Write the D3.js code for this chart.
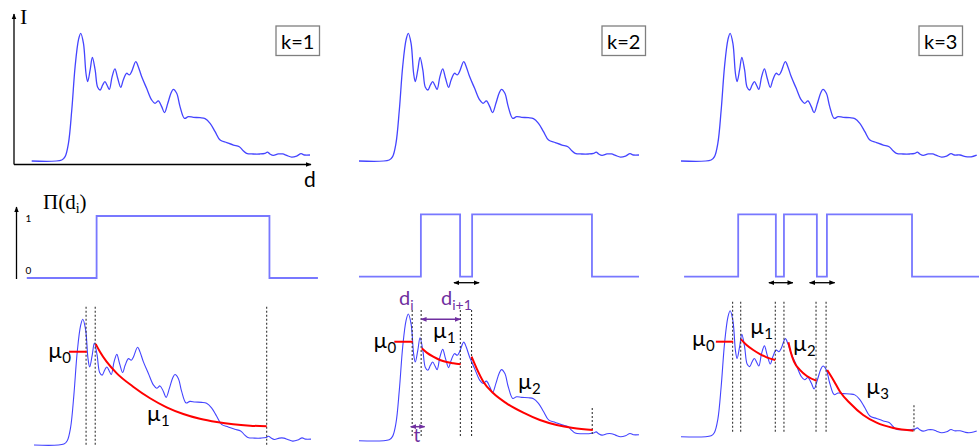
<!DOCTYPE html>
<html lang="en">
<head>
<meta charset="UTF-8">
<script src="https://d3js.org/d3.v7.min.js"></script>
<style>
  body, html { margin: 0; padding: 0; background: #fff; overflow: hidden; }
  svg { display: block; font-family: Lato, "Open Sans", sans-serif; }
</style>
</head>
<body>
<div id="chart"></div>
<script>
// intensity profile I(d), identical in the three panels (points beyond d=100 only visible for k=3)
const profileD = [0, 10.8, 12.0, 13.2, 14.4, 15.6, 16.8, 17.6, 18.6, 19.5,
  20.1, 21.0, 21.8, 22.8, 23.7, 24.6, 25.5, 26.3, 27.2, 27.9,
  28.9, 29.9, 30.9, 32.0, 32.9, 34.1, 35.1, 35.9, 37.4, 38.3,
  39.5, 41.3, 43.1, 44.3, 45.5, 46.7, 47.7, 48.9, 50.1, 50.9,
  52.1, 53.3, 54.9, 56.3, 58.1, 60.5, 62.3, 64.1, 65.9, 67.7,
  70.1, 72.5, 74.6, 76.0, 77.2, 79.6, 82.0, 83.8, 84.7, 85.6,
  86.8, 88.6, 90.2, 91.6, 93.4, 95.2, 96.8, 98.0, 100, 102, 104, 106];
const profileI = [0, 0.8, 3.4, 13.8, 39.9, 73.9, 94.8, 100, 92.2, 68.7,
  62.1, 71.3, 81.2, 71.3, 57.7, 55.6, 59.5, 62.1, 58.7, 56.1,
  66.1, 72.1, 64.8, 57.7, 63.4, 68.7, 67.4, 70.0, 77.8, 73.9,
  66.1, 56.9, 47.8, 45.2, 47.0, 42.6, 37.9, 45.2, 53.5, 56.1,
  53.0, 42.6, 33.4, 34.7, 34.2, 33.9, 33.2, 29.5, 23.0, 16.4,
  14.4, 12.5, 11.2, 8.1, 6.0, 5.5, 5.5, 6.0, 7.0, 5.5,
  4.4, 5.5, 5.5, 4.4, 3.1, 3.9, 5.7, 4.7, 4.7, 3.4, 3.3, 4.6];

const kLabels = ["k=1", "k=2", "k=3"];

// Π(d_i) window function: edges along d and level held after each edge
const stepEdges = [
  [-2.6, 22.6, 85.0, 102.5],
  [0, 22.1, 36.1, 40.4, 83.2, 100],
  [1.1, 20.5, 34.0, 36.9, 48.7, 52.3, 82.8, 107]
];
const stepLevels = [
  [0, 1, 0, 0],
  [0, 1, 0, 1, 0, 0],
  [0, 1, 0, 1, 0, 1, 0, 0]
];
// widened gaps marked with double arrows
const gapArrows = [[], [[33.9, 42.9]], [[31.5, 40.1], [46.1, 55.1]]];

// segment boundaries (dotted lines)
const boundaries = [
  [18.8, 22.1, 84.0],
  [19.0, 22.2, 36.2, 40.2, 83.3],
  [18.5, 21.4, 33.8, 36.9, 48.4, 52.0, 83.5]
];

// mu0 level: [d start, d end, I]
const mu0 = [[12.6, 19.0, 74.2], [12.6, 19.2, 78.1], [12.5, 18.7, 75.4]];

// fitted decays per segment, [d, I]
const fits = [
  [[[22.3, 80.3], [23.8, 74.2], [26.2, 66.3], [29.9, 57.0], [35.8, 46.4], [41.9, 37.2], [47.9, 30.0],
    [53.9, 24.7], [59.9, 20.9], [66.0, 18.3], [71.9, 16.5], [78.0, 15.4], [84.0, 14.9]]],
  [[[22.4, 72.9], [24.2, 69.5], [26.5, 66.3], [28.9, 63.7], [31.3, 62.1], [33.7, 61.1], [36.3, 60.3]],
   [[40.2, 66.3], [42.0, 57.1], [44.4, 46.6], [48.0, 37.4], [52.7, 29.5], [58.7, 22.1], [64.6, 16.3],
    [70.6, 12.4], [76.5, 10.0], [83.5, 8.4]]],
  [[[21.5, 77.3], [23.5, 72.8], [25.9, 68.8], [28.3, 65.6], [30.7, 63.0], [33.8, 60.9]],
   [[38.5, 74.9], [39.3, 67.5], [40.5, 59.5], [42.7, 52.9], [45.1, 48.2], [48.6, 44.4]],
   [[52.4, 52.9], [54.6, 45.0], [57.0, 35.7], [60.6, 26.5], [65.3, 17.2], [70.1, 11.1], [76.1, 6.9], [83.3, 4.8]]]
];
const muNames = [["0", "1"], ["0", "1", "2"], ["0", "1", "2", "3"]];

// ---- layout ----
const W = 979, H = 446;
const cols = [
  {top: [31.7, 310], bot: [34, 311], botY: [445, 319.3], stepY: [278, 216], box: 276, dot: [306.7, 446], maxD: 100},
  {top: [359, 639], bot: [359, 639], botY: [440.7, 314], stepY: [276.7, 214.3], box: 602, dot: [310, 436], maxD: 100},
  {top: [681, 960], bot: [681, 960], botY: [436.7, 310.7], stepY: [276.7, 214.3], box: 919, dot: [301.7, 433.3], maxD: 106}
];
const topY = [161, 33.3];
const muPos = [
  [[48, 357.5], [146.7, 421]],
  [[373.3, 347.5], [432.7, 337.5], [517.7, 389]],
  [[691.7, 346], [750, 334], [792.7, 351], [866, 394]]
];

const sigColor = "#4444ff", stepColor = "#7878ff", fitColor = "#ff0000", purple = "#7030a0";

const svg = d3.select("#chart").append("svg").attr("width", W).attr("height", H);
const defs = svg.append("defs");
function marker(id, color) {
  defs.append("marker").attr("id", id)
    .attr("viewBox", "0 0 10 10").attr("refX", 9).attr("refY", 5)
    .attr("markerWidth", 6).attr("markerHeight", 6)
    .attr("markerUnits", "userSpaceOnUse")
    .attr("orient", "auto-start-reverse")
    .append("path").attr("d", "M0,1 L10,5 L0,9 z").attr("fill", color);
}
marker("arrK", "#000");
marker("arrP", purple);

const profile = profileD.map((d, i) => [d, profileI[i]]);
const smooth = d3.curveCatmullRom.alpha(0.5);

cols.forEach((c, ci) => {
  const pts = profile.filter(p => p[0] <= c.maxD);

  // top row
  const xt = d3.scaleLinear().domain([0, 100]).range(c.top);
  const yt = d3.scaleLinear().domain([0, 100]).range(topY);
  svg.append("path").datum(pts)
    .attr("d", d3.line().x(p => xt(p[0])).y(p => yt(p[1])).curve(smooth))
    .attr("fill", "none").attr("stroke", sigColor).attr("stroke-width", 1.3);

  svg.append("rect").attr("x", c.box).attr("y", 26).attr("width", 43.5).attr("height", 29.5)
    .attr("fill", "none").attr("stroke", "#7f7f7f").attr("stroke-width", 1.3);
  svg.append("text").attr("x", c.box + 21.75).attr("y", 48.5).attr("text-anchor", "middle")
    .attr("font-size", 20).text(kLabels[ci]);

  // middle row: window function
  const xb = d3.scaleLinear().domain([0, 100]).range(c.bot);
  const ys = d3.scaleLinear().domain([0, 1]).range(c.stepY);
  svg.append("path").datum(stepEdges[ci].map((e, i) => [e, stepLevels[ci][i]]))
    .attr("d", d3.line().x(p => xb(p[0])).y(p => ys(p[1])).curve(d3.curveStepAfter))
    .attr("fill", "none").attr("stroke", stepColor).attr("stroke-width", 1.8);
  gapArrows[ci].forEach(g => {
    svg.append("line").attr("x1", xb(g[0])).attr("x2", xb(g[1])).attr("y1", 282.7).attr("y2", 282.7)
      .attr("stroke", "#000").attr("stroke-width", 1.3)
      .attr("marker-start", "url(#arrK)").attr("marker-end", "url(#arrK)");
  });

  // bottom row
  const yb = d3.scaleLinear().domain([0, 100]).range(c.botY);
  svg.append("path").datum(pts)
    .attr("d", d3.line().x(p => xb(p[0])).y(p => yb(p[1])).curve(smooth))
    .attr("fill", "none").attr("stroke", sigColor).attr("stroke-width", 1.1);

  const bnd = boundaries[ci];
  bnd.forEach((b, i) => {
    const last = i === bnd.length - 1 && ci > 0;
    svg.append("line").attr("x1", xb(b)).attr("x2", xb(b))
      .attr("y1", last ? c.dot[1] - 28 : c.dot[0]).attr("y2", c.dot[1])
      .attr("stroke", "#333").attr("stroke-width", 1.1).attr("stroke-dasharray", "2,2");
  });

  const m = mu0[ci];
  svg.append("line").attr("x1", xb(m[0])).attr("x2", xb(m[1])).attr("y1", yb(m[2])).attr("y2", yb(m[2]))
    .attr("stroke", fitColor).attr("stroke-width", 2);
  fits[ci].forEach(seg => {
    svg.append("path").datum(seg)
      .attr("d", d3.line().x(p => xb(p[0])).y(p => yb(p[1])).curve(d3.curveMonotoneX))
      .attr("fill", "none").attr("stroke", fitColor).attr("stroke-width", 2);
  });

  muNames[ci].forEach((n, i) => {
    const t = svg.append("text").attr("x", muPos[ci][i][0]).attr("y", muPos[ci][i][1])
      .attr("font-size", 22).attr("fill", "#000");
    t.append("tspan").text("\u00b5");
    t.append("tspan").attr("font-size", 15).attr("dy", 5).text(n);
  });

  if (ci === 1) {
    [[399, "i"], [441, "i+1"]].forEach(([x, s]) => {
      const t = svg.append("text").attr("x", x).attr("y", 305).attr("font-size", 20).attr("fill", purple);
      t.append("tspan").text("d");
      t.append("tspan").attr("font-size", 14).attr("dy", 5).text(s);
    });
    svg.append("line").attr("x1", xb(bnd[1])).attr("x2", xb(bnd[2])).attr("y1", 319.3).attr("y2", 319.3)
      .attr("stroke", purple).attr("stroke-width", 1.5)
      .attr("marker-start", "url(#arrP)").attr("marker-end", "url(#arrP)");
    svg.append("line").attr("x1", xb(bnd[0]) - 1.5).attr("x2", xb(bnd[1]) + 3.5).attr("y1", 426.7).attr("y2", 426.7)
      .attr("stroke", purple).attr("stroke-width", 1.5)
      .attr("marker-start", "url(#arrP)").attr("marker-end", "url(#arrP)");
    svg.append("text").attr("x", 413.5).attr("y", 442).attr("font-size", 19).attr("fill", purple).text("t");
  }
});

// axes of the first column
svg.append("path").attr("d", "M14,164.5 L14,14").attr("stroke", "#000").attr("stroke-width", 1.3)
  .attr("marker-end", "url(#arrK)");
svg.append("path").attr("d", "M14,164.5 L311,164.5").attr("stroke", "#000").attr("stroke-width", 1.3)
  .attr("marker-end", "url(#arrK)");
svg.append("text").attr("x", 20).attr("y", 23.5).attr("font-family", "'Liberation Serif', serif")
  .attr("font-size", 22).text("I");
svg.append("text").attr("x", 304).attr("y", 186.5).attr("font-size", 21).text("d");

svg.append("path").attr("d", "M16.5,279 L16.5,207").attr("stroke", "#000").attr("stroke-width", 1.3)
  .attr("marker-end", "url(#arrK)");
const yl = d3.scaleLinear().domain([0, 1]).range([273.5, 221.5]);
svg.selectAll(".tick01").data([0, 1]).enter().append("text")
  .attr("x", 25.5).attr("y", d => yl(d)).attr("font-size", 10).text(d => d);
const pt = svg.append("text").attr("x", 43).attr("y", 209).attr("font-family", "'Liberation Serif', serif")
  .attr("font-size", 21);
pt.append("tspan").text("\u03a0(d");
pt.append("tspan").attr("font-size", 14).attr("dy", 4).text("i");
pt.append("tspan").attr("dy", -4).text(")");
</script>
</body>
</html>
